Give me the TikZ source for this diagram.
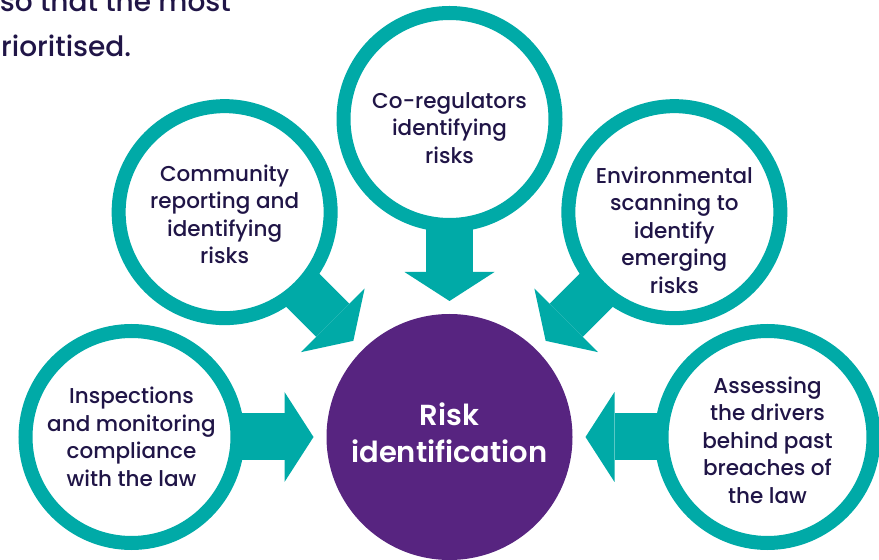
\documentclass[tikz,border=0pt]{standalone}
\usepackage{fontspec}
\setmainfont{Poppins}[UprightFont=* Medium, BoldFont=* SemiBold]
\usetikzlibrary{arrows.meta,calc}
\definecolor{accent}{RGB}{0,170,167}
\definecolor{core}{RGB}{87,36,128}
\definecolor{ink}{RGB}{32,21,71}

\begin{document}
\begin{tikzpicture}[
    x=1pt, y=1pt,
    source/.style={circle, draw=accent, line width=14pt, fill=white, minimum size=212pt, inner sep=0pt, outer sep=0pt},
    srctext/.style={text=ink, align=center, font=\fontsize{21.5}{27.5}\selectfont},
    feed/.style={accent, line width=47pt, -{Triangle[length=29pt, width=90pt, line width=0pt]}, shorten >=13pt}
]
    \useasboundingbox (0,0) rectangle (879,560);

    % cut-off lines of the text above
    \node[anchor=base east, inner sep=0pt, text=ink, font=\fontsize{28}{45}\selectfont] (intro-a) at (231,548) {so that the most};
    \node[anchor=base west, inner sep=0pt, text=ink, font=\fontsize{28}{45}\selectfont] (intro-b) at (1,503) {rioritised.};

    \node[circle, fill=core, minimum size=246pt, inner sep=0pt, outer sep=0pt] (risk) at (449.5,123) {};
    \node[text=white, align=center, font=\bfseries\fontsize{29}{37}\selectfont] (risk-t) at ($(risk)+(0,4)$) {Risk\\identification};

    \node[source] (inspect) at ($(risk)+(180:318)$) {};
    \node[source] (community) at ($(risk)+(135:318)$) {};
    \node[source] (coreg) at ($(risk)+(90:318)$) {};
    \node[source] (scan) at ($(risk)+(45:318)$) {};
    \node[source] (drivers) at ($(risk)+(0:318)$) {};

    \node[srctext] (inspect-t) at (inspect) {Inspections\\and monitoring\\compliance\\with the law};
    \node[srctext] (community-t) at ($(community)+(0,-2)$) {Community\\reporting and\\identifying\\risks};
    \node[srctext] (coreg-t) at ($(coreg)+(0,-9)$) {Co-regulators\\identifying\\risks};
    \node[srctext] (scan-t) at ($(scan)+(0,-18)$) {Environmental\\scanning to\\identify\\emerging\\risks};
    \node[srctext] (drivers-t) at ($(drivers)+(0,-3)$) {Assessing\\the drivers\\behind past\\breaches of\\the law};

    \draw[feed] (inspect) -- (risk);
    \draw[feed] (community) -- (risk);
    \draw[feed] (coreg) -- (risk);
    \draw[feed] (scan) -- (risk);
    \draw[feed] (drivers) -- (risk);
\end{tikzpicture}
\end{document}
